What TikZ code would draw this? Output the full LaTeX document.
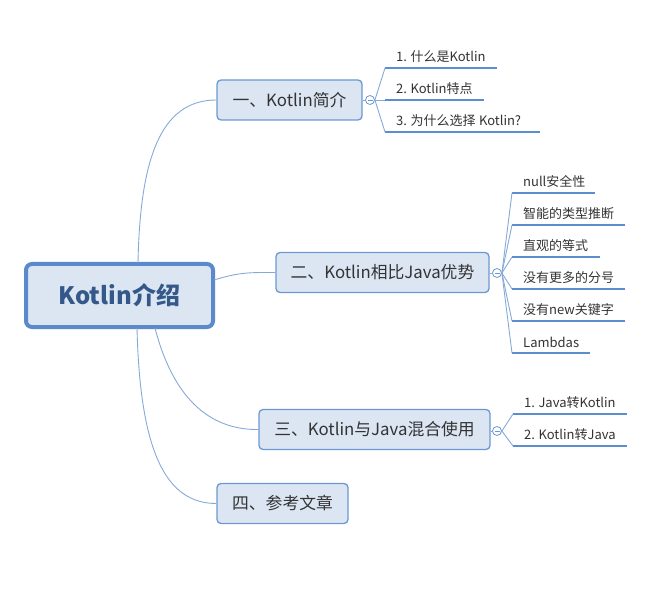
\documentclass[tikz,border=0pt]{standalone}
\usepackage{fontspec}
\setmainfont{Noto Sans CJK SC}
\usetikzlibrary{calc}
\definecolor{boxfill}{HTML}{DCE6F3}
\definecolor{boxline}{HTML}{6B98D2}
\definecolor{rootline}{HTML}{5A8ACB}
\definecolor{conn}{HTML}{86A9D8}
\definecolor{uline}{HTML}{5B8ECF}
\definecolor{roottext}{HTML}{34588A}
\definecolor{txt}{HTML}{333333}
\tikzset{
  rootbox/.style={draw=rootline, line width=4pt, fill=boxfill, rounded corners=6pt,
    minimum width=187pt, minimum height=63pt, inner sep=0pt,
    font=\fontsize{24}{27}\selectfont\bfseries, text=roottext},
  branch/.style={draw=boxline, line width=1.3pt, fill=boxfill, rounded corners=4pt,
    minimum height=40pt, inner sep=0pt, font=\fontsize{16.8}{19}\selectfont, text=txt},
  leaf/.style={anchor=south west, inner xsep=11pt, inner ysep=5pt, align=left,
    font=\fontsize{13}{15}\selectfont, text=txt},
  collapse/.style={circle, draw=boxline, line width=0.8pt, fill=white, minimum size=9pt, inner sep=0pt},
  link/.style={draw=conn, line width=0.9pt},
  under/.style={draw=uline, line width=2.6pt}
}
\newcommand{\minusmark}[1]{\draw[boxline, line width=0.7pt] ($(#1)+(-2.5,0)$) -- ($(#1)+(2.5,0)$);}
\newcommand{\bracketcurve}[2]{\draw[link] (#1) .. controls ($(#1)!0.5!(#2)$ |- #1) and ($(#1)!0.5!(#2)$ |- #2) .. (#2);}
\newcommand{\smallgap}{\hspace{3.5pt}}
\begin{document}
\begin{tikzpicture}[x=1pt, y=-1pt]
\useasboundingbox (0,0) rectangle (665,599);

% root
\node[rootbox] (root) at (119.5,295.5) {Kotlin介绍};
\coordinate (rt1) at (138,263);
\coordinate (rt2) at (214,280);
\coordinate (rb3) at (155,328);
\coordinate (rb4) at (137,328);

% branches
\node[branch, minimum width=145pt] (b1) at (289.5,100) {一、Kotlin简介};
\node[branch, minimum width=213pt] (b2) at (382.5,272.5) {二、Kotlin相比Java优势};
\node[branch, minimum width=231pt] (b3) at (374.5,429.5) {三、Kotlin与Java混合使用};
\node[branch, minimum width=131pt] (b4) at (282.5,503.5) {四、参考文章};

% root connectors
\draw[link] (rt1) .. controls (140,160) and (160,100) .. (b1.west);
\draw[link] (rt2) .. controls (240,272) and (250,272.5) .. (b2.west);
\draw[link] (rb3) .. controls (175,405) and (215,430) .. (b3.west);
\draw[link] (rb4) .. controls (140,450) and (165,503.5) .. (b4.west);

% collapse circles
\node[collapse] (c1) at (370,100) {};
\node[collapse] (c2) at (497,273) {};
\node[collapse] (c3) at (497,431) {};
\draw[link] (b1.east) -- (c1.west);
\draw[link] (b2.east |- c2) -- (c2.west);
\draw[link] (b3.east |- c3) -- (c3.west);
\minusmark{c1}\minusmark{c2}\minusmark{c3}

% leaves of branch 1
\node[leaf, text width=90pt] (l11) at (385,68) {1.\smallgap 什么是Kotlin};
\node[leaf, text width=77pt] (l12) at (385,100) {2.\smallgap Kotlin特点};
\node[leaf, text width=133pt] (l13) at (385,132) {3.\smallgap 为什么选择\smallgap Kotlin?};

% leaves of branch 2
\node[leaf, text width=61pt] (l21) at (512,193) {null安全性};
\node[leaf, text width=91pt] (l22) at (512,225) {智能的类型推断};
\node[leaf, text width=66pt] (l23) at (512,257) {直观的等式};
\node[leaf, text width=91pt] (l24) at (512,289) {没有更多的分号};
\node[leaf, text width=91pt] (l25) at (512,321) {没有new关键字};
\node[leaf, text width=56pt] (l26) at (512,353) {Lambdas};

% leaves of branch 3
\node[leaf, text width=92pt] (l31) at (513,414) {1.\smallgap Java转Kotlin};
\node[leaf, text width=92pt] (l32) at (513,446) {2.\smallgap Kotlin转Java};

% underlines
\foreach \n in {l11,l12,l13,l21,l22,l23,l24,l25,l26,l31,l32}
  {\draw[under] (\n.south west) -- (\n.south east);}

% bracket connectors
\foreach \n in {l11,l12,l13} {\bracketcurve{c1.east}{\n.south west}}
\foreach \n in {l21,l22,l23,l24,l25,l26} {\bracketcurve{c2.east}{\n.south west}}
\foreach \n in {l31,l32} {\bracketcurve{c3.east}{\n.south west}}
\end{tikzpicture}
\end{document}
